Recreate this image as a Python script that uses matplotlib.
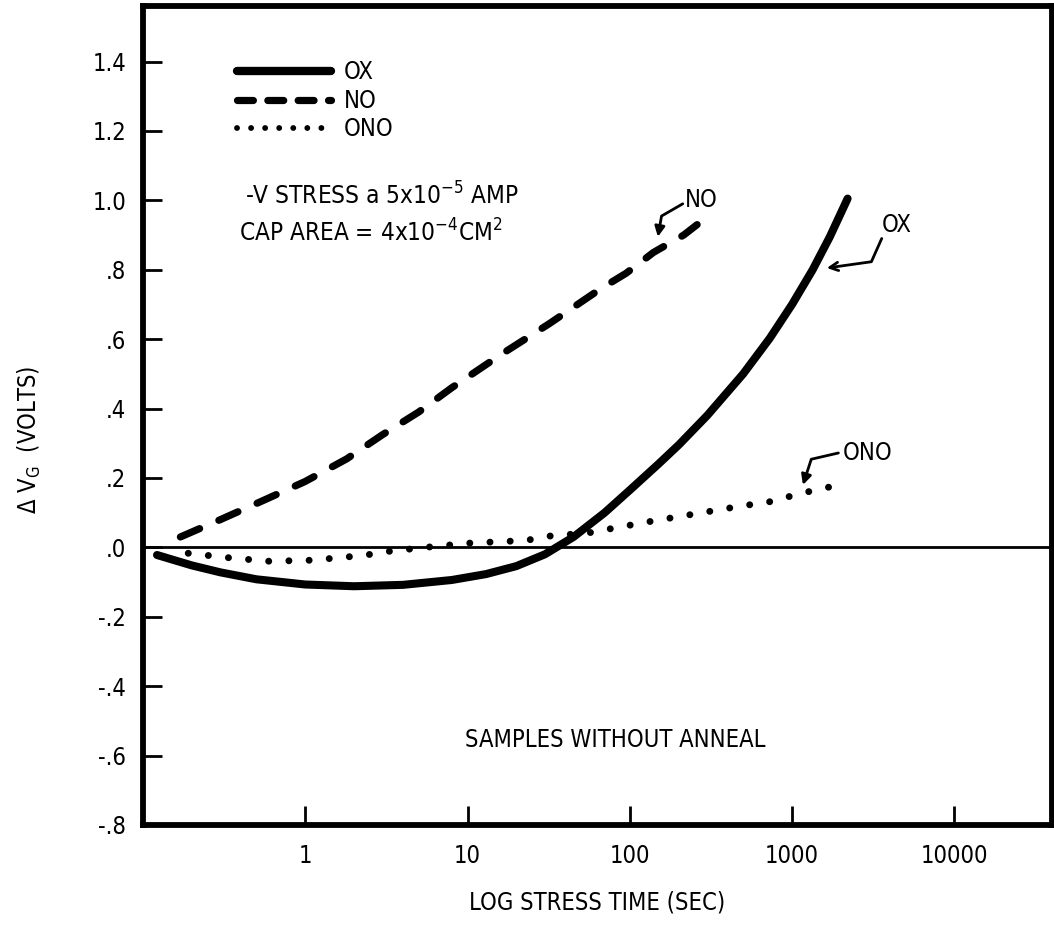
import matplotlib
matplotlib.use("Agg")
import matplotlib.pyplot as plt
import matplotlib.lines as mlines
import matplotlib.ticker as mticker

plt.rcParams['font.family'] = ['DejaVu Sans Condensed', 'Liberation Sans Narrow', 'DejaVu Sans']
plt.rcParams['font.stretch'] = 'condensed'

# ---- data ----
ox_t = [0.122, 0.2, 0.3, 0.5, 1.0, 2.0, 4.0, 8.0, 13.0, 20.0, 30.0, 45.0, 70.0, 100.0, 150.0, 200.0,
        300.0, 500.0, 730.0, 1000.0, 1340.0, 1710.0, 2200.0]
ox_v = [-0.022, -0.052, -0.072, -0.092, -0.107, -0.112, -0.108, -0.094, -0.077, -0.054, -0.02, 0.03,
        0.10, 0.165, 0.24, 0.295, 0.38, 0.50, 0.603, 0.70, 0.80, 0.895, 1.005]

no_t = [0.17, 0.3, 0.55, 1.0, 1.8, 3.0, 5.0, 8.0, 16.0, 32.0, 66.0, 95.0, 140.0, 215.0, 260.0]
no_v = [0.03, 0.08, 0.135, 0.19, 0.255, 0.325, 0.39, 0.46, 0.555, 0.645, 0.745, 0.79, 0.85, 0.90, 0.93]

ono_t = [0.19, 0.34, 0.6, 1.1, 2.3, 3.2, 5.5, 10.0, 23.0, 31.0, 56.0, 90.0, 135.0, 470.0, 740.0, 1120.0, 1780.0]
ono_v = [-0.017, -0.03, -0.04, -0.037, -0.023, -0.012, 0.0, 0.012, 0.02, 0.032, 0.042, 0.06, 0.075, 0.118, 0.132, 0.155, 0.176]

x_ticks = [1, 10, 100, 1000, 10000]
x_tick_labels = ['1', '10', '100', '1000', '10000']
y_ticks = [1.4, 1.2, 1.0, 0.8, 0.6, 0.4, 0.2, 0.0, -0.2, -0.4, -0.6, -0.8]
y_tick_labels = ['1.4', '1.2', '1.0', '.8', '.6', '.4', '.2', '.0', '-.2', '-.4', '-.6', '-.8']

FS = 17
FS_NOTE = 17.5

W, H = 1054, 926
fig = plt.figure(figsize=(W / 100, H / 100), dpi=100)
L, R, T, B = 143, 1052, 6, 825
ax = fig.add_axes([L / W, 1 - B / H, (R - L) / W, (B - T) / H])

ax.set_xscale('log')
ax.set_xlim(0.1, 40000)
ax.set_ylim(-0.8, 1.56)

OX_STYLE = dict(color='black', lw=5.8, linestyle='-', solid_capstyle='round', solid_joinstyle='round')
NO_STYLE = dict(color='black', lw=5.2, linestyle=(0, (2.9, 2.9)), dash_capstyle='round')
ONO_STYLE = dict(color='black', lw=5.0, linestyle=(0, (0.01, 2.9)), dash_capstyle='round')

ax.plot(ox_t, ox_v, **OX_STYLE)
ax.plot(no_t, no_v, **NO_STYLE)
ax.plot(ono_t, ono_v, **ONO_STYLE)

ax.axhline(0.0, color='black', lw=2)

for s in ax.spines.values():
    s.set_linewidth(4.2)

ax.set_xticks(x_ticks)
ax.set_xticklabels(x_tick_labels)
ax.xaxis.set_minor_locator(mticker.NullLocator())
ax.set_yticks(y_ticks)
ax.set_yticklabels(y_tick_labels)
ax.tick_params(axis='both', direction='in', length=14, width=2, labelsize=FS)
ax.tick_params(axis='y', pad=12)
ax.tick_params(axis='x', pad=14)

ax.set_xlabel('LOG STRESS TIME (SEC)', fontsize=FS, labelpad=16)
ax.set_ylabel(r'$\Delta$ V$_{\mathrm{G}}$  (VOLTS)', fontsize=FS)
ax.yaxis.set_label_coords(-0.11, 0.47)

# legend
handles = [mlines.Line2D([], [], color='black', lw=6, solid_capstyle='round'),
           mlines.Line2D([], [], color='black', lw=5.2, linestyle=(0, (2.2, 2.0)), dash_capstyle='round'),
           mlines.Line2D([], [], color='black', lw=4.2, linestyle=(0, (0.01, 2.4)), dash_capstyle='round')]
ax.legend(handles, ['OX', 'NO', 'ONO'], loc='upper left', bbox_to_anchor=(0.103, 0.934),
          frameon=False, fontsize=FS, handlelength=4.0, handletextpad=0.55,
          labelspacing=0.2, borderpad=0, borderaxespad=0)

ax.text(0.112, 0.757, r'-V STRESS a 5x10$^{-5}$ AMP', transform=ax.transAxes, fontsize=FS_NOTE)
ax.text(0.106, 0.712, r'CAP AREA = 4x10$^{-4}$CM$^{2}$', transform=ax.transAxes, fontsize=FS_NOTE)
ax.text(0.52, 0.095, 'SAMPLES WITHOUT ANNEAL', transform=ax.transAxes, fontsize=FS, ha='center')

# callout labels with bent arrows
ax.text(219, 1.0, 'NO', fontsize=FS, ha='left', va='center')
ax.annotate('', xy=(149, 0.895), xytext=(212, 0.99),
            arrowprops=dict(arrowstyle='-|>,head_length=0.6,head_width=0.3', color='black', lw=2,
                            shrinkA=0, shrinkB=0,
                            connectionstyle='angle,angleA=30,angleB=80,rad=0'))

ax.text(3570, 0.93, 'OX', fontsize=FS, ha='left', va='center')
ax.annotate('', xy=(1637, 0.805), xytext=(3570, 0.89),
            arrowprops=dict(arrowstyle='->,head_length=0.6,head_width=0.3', color='black', lw=2,
                            shrinkA=0, shrinkB=0,
                            connectionstyle='angle,angleA=66,angleB=8,rad=0'))

ax.text(2055, 0.272, 'ONO', fontsize=FS, ha='left', va='center')
ax.annotate('', xy=(1167, 0.18), xytext=(1930, 0.272),
            arrowprops=dict(arrowstyle='-|>,head_length=0.6,head_width=0.3', color='black', lw=2,
                            shrinkA=0, shrinkB=0,
                            connectionstyle='angle,angleA=13,angleB=72,rad=0'))

fig.savefig('out.png', dpi=100)
